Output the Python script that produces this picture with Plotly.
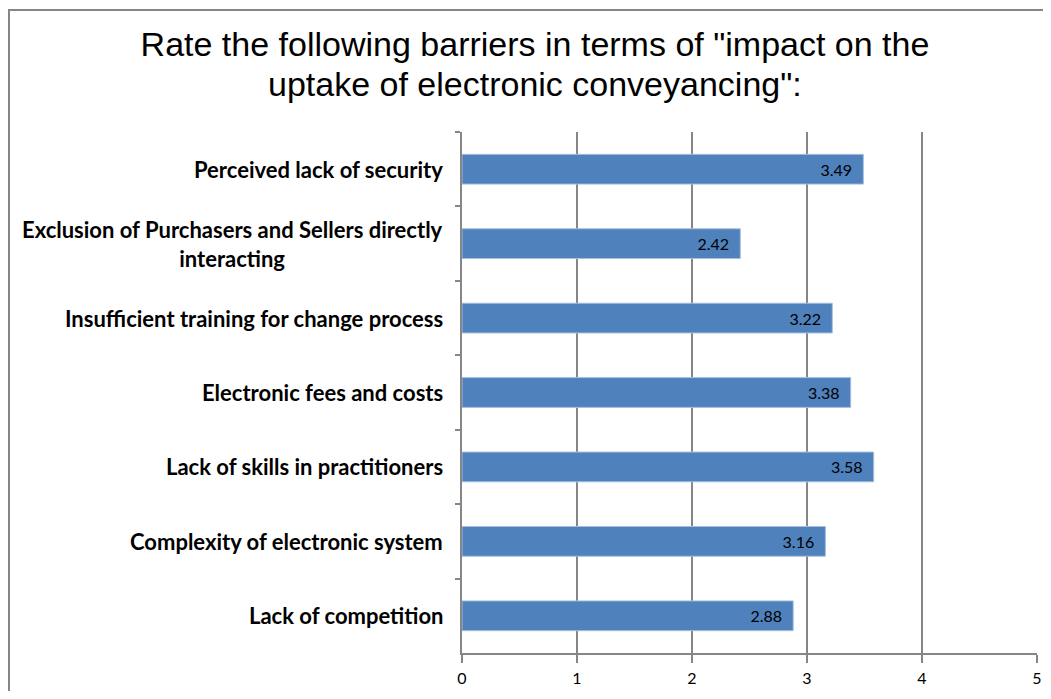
import plotly.graph_objects as go

categories = [
    "Perceived lack of security",
    "Exclusion of Purchasers and Sellers directly<br>interacting",
    "Insufficient training for change process",
    "Electronic fees and costs",
    "Lack of skills in practitioners",
    "Complexity of electronic system",
    "Lack of competition",
]
values = [3.49, 2.42, 3.22, 3.38, 3.58, 3.16, 2.88]
x_ticks = [0, 1, 2, 3, 4, 5]
title_line1 = 'Rate the following barriers in terms of "impact on the'
title_line2 = 'uptake of electronic conveyancing":'

# page has an 8px body margin; figure drawn at page offset (8, 8)
W, H = 1043, 683
L, R, T, B = 454, 14, 124, 38
pw, ph = W - L - R, H - T - B


def px_x(fx):
    return (fx - L) / pw


def px_y(fy):
    return (H - B - fy) / ph


fig = go.Figure()
fig.add_trace(go.Bar(
    y=categories, x=values, orientation="h",
    marker=dict(color="#4F81BD", line=dict(color="#A7C0DE", width=1)),
    text=[f"{v:.2f}\u00a0\u00a0" for v in values],
    textposition="inside", insidetextanchor="end",
    textfont=dict(family="Lato", size=16, color="#000000"),
    width=0.4, hoverinfo="skip",
))

for c in categories:
    fig.add_annotation(
        x=0, xref="paper", y=c, yref="y", text=c,
        xanchor="right", yanchor="middle", align="center",
        xshift=-17, showarrow=False,
        font=dict(family="Lato", size=22, color="#000000", weight="bold"),
    )

# second title line
fig.add_annotation(
    x=px_x(527), xref="paper", y=px_y(76), yref="paper",
    text=title_line2, showarrow=False, xanchor="center", yanchor="middle",
    font=dict(family="Liberation Sans", size=34, color="#000000"),
)

# outer chart border
fig.add_shape(type="rect", xref="paper", yref="paper",
              x0=px_x(1), x1=px_x(W + 10),
              y0=px_y(H + 10), y1=px_y(2),
              line=dict(color="#868686", width=2), fillcolor="rgba(0,0,0,0)", layer="below")

fig.update_layout(
    width=W, height=H,
    margin=dict(l=L, r=R, t=T, b=B, autoexpand=False),
    paper_bgcolor="white", plot_bgcolor="white",
    showlegend=False,
    title=dict(text=title_line1, x=527 / W, xanchor="center", xref="container",
               y=1 - 36 / H, yanchor="middle", yref="container",
               font=dict(family="Liberation Sans", size=34, color="#000000")),
    xaxis=dict(range=[0, 5], tickvals=x_ticks, showgrid=True, gridcolor="#868686", gridwidth=2,
               zeroline=False, showline=True, linecolor="#868686", linewidth=2,
               ticks="outside", ticklen=8, tickcolor="#868686", ticklabelstandoff=2,
               tickwidth=2, automargin=False,
               tickfont=dict(family="Lato", size=16, color="#000000")),
    yaxis=dict(autorange="reversed", showticklabels=False, ticks="outside", tickson="boundaries",
               ticklen=5, tickcolor="#868686", tickwidth=2, showline=True, linecolor="#868686",
               linewidth=2, showgrid=False, automargin=False),
)

fig.write_html("out.html")
